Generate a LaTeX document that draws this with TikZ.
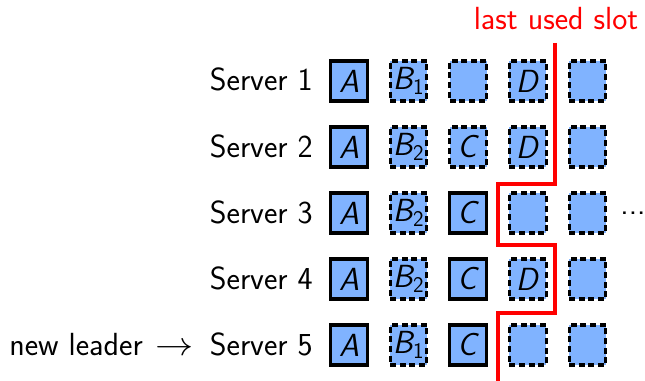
\documentclass[tikz,border=0pt]{standalone}
\usepackage{amsmath}
\definecolor{slotblue}{RGB}{128,179,255}
\newcommand{\ent}[1]{\textsl{#1}}
\newcommand{\entsub}[2]{$\textsl{#1}_{\textsf{#2}}$}
\begin{document}
\begin{tikzpicture}[x=0.75pt,y=-0.75pt,
  every node/.style={font=\fontsize{24}{29}\selectfont\sffamily},
  slot/.style={draw=black, fill=slotblue, line width=2.3pt,
    minimum width=27.5pt, minimum height=30pt, inner sep=0pt},
  committed/.style={slot},
  pending/.style={slot, dash pattern=on 4.5pt off 2.7pt},
  lbl/.style={inner sep=0pt, anchor=base east},
  boundary/.style={draw=red, line width=2.3pt}]
\useasboundingbox (0,0) rectangle (645,381);

% server names (baseline sits 10px below each row centre)
\foreach \r/\y in {1/81,2/147,3/213,4/279,5/345}
  \node[lbl] (srv\r) at (313,\y+10) {Server \r};
\node[lbl] (newleader) at (194,355)
  {new leader\hspace{0.4em}\scalebox{1.15}[1]{$\rightarrow$}};

% row 1
\node[committed] (s1c1) at (349,81)   {\ent{A}};
\node[pending]   (s1c2) at (408.6,81) {\entsub{B}{1}};
\node[pending]   (s1c3) at (468.2,81) {};
\node[pending]   (s1c4) at (527.8,81) {\ent{D}};
\node[pending]   (s1c5) at (587.4,81) {};
% row 2
\node[committed] (s2c1) at (349,147)   {\ent{A}};
\node[pending]   (s2c2) at (408.6,147) {\entsub{B}{2}};
\node[pending]   (s2c3) at (468.2,147) {\ent{C}};
\node[pending]   (s2c4) at (527.8,147) {\ent{D}};
\node[pending]   (s2c5) at (587.4,147) {};
% row 3
\node[committed] (s3c1) at (349,213)   {\ent{A}};
\node[pending]   (s3c2) at (408.6,213) {\entsub{B}{2}};
\node[committed] (s3c3) at (468.2,213) {\ent{C}};
\node[pending]   (s3c4) at (527.8,213) {};
\node[pending]   (s3c5) at (587.4,213) {};
\node[inner sep=0pt] (more) at (633,213) {...};
% row 4
\node[committed] (s4c1) at (349,279)   {\ent{A}};
\node[pending]   (s4c2) at (408.6,279) {\entsub{B}{2}};
\node[committed] (s4c3) at (468.2,279) {\ent{C}};
\node[pending]   (s4c4) at (527.8,279) {\ent{D}};
\node[pending]   (s4c5) at (587.4,279) {};
% row 5
\node[committed] (s5c1) at (349,345)   {\ent{A}};
\node[pending]   (s5c2) at (408.6,345) {\entsub{B}{1}};
\node[committed] (s5c3) at (468.2,345) {\ent{C}};
\node[pending]   (s5c4) at (527.8,345) {};
\node[pending]   (s5c5) at (587.4,345) {};

% last used slot boundary
\node[inner sep=0pt, anchor=base, text=red] (lastlbl) at (556,30) {last used slot};
\coordinate (b0) at (555,43);
\coordinate (b1) at (555,184);
\coordinate (b2) at (498,184);
\coordinate (b3) at (498,245);
\coordinate (b4) at (555,245);
\coordinate (b5) at (555,313);
\coordinate (b6) at (498,313);
\coordinate (b7) at (498,381);
\draw[boundary] (b0) -- (b1) -- (b2) -- (b3) -- (b4) -- (b5) -- (b6) -- (b7);
\end{tikzpicture}
\end{document}
